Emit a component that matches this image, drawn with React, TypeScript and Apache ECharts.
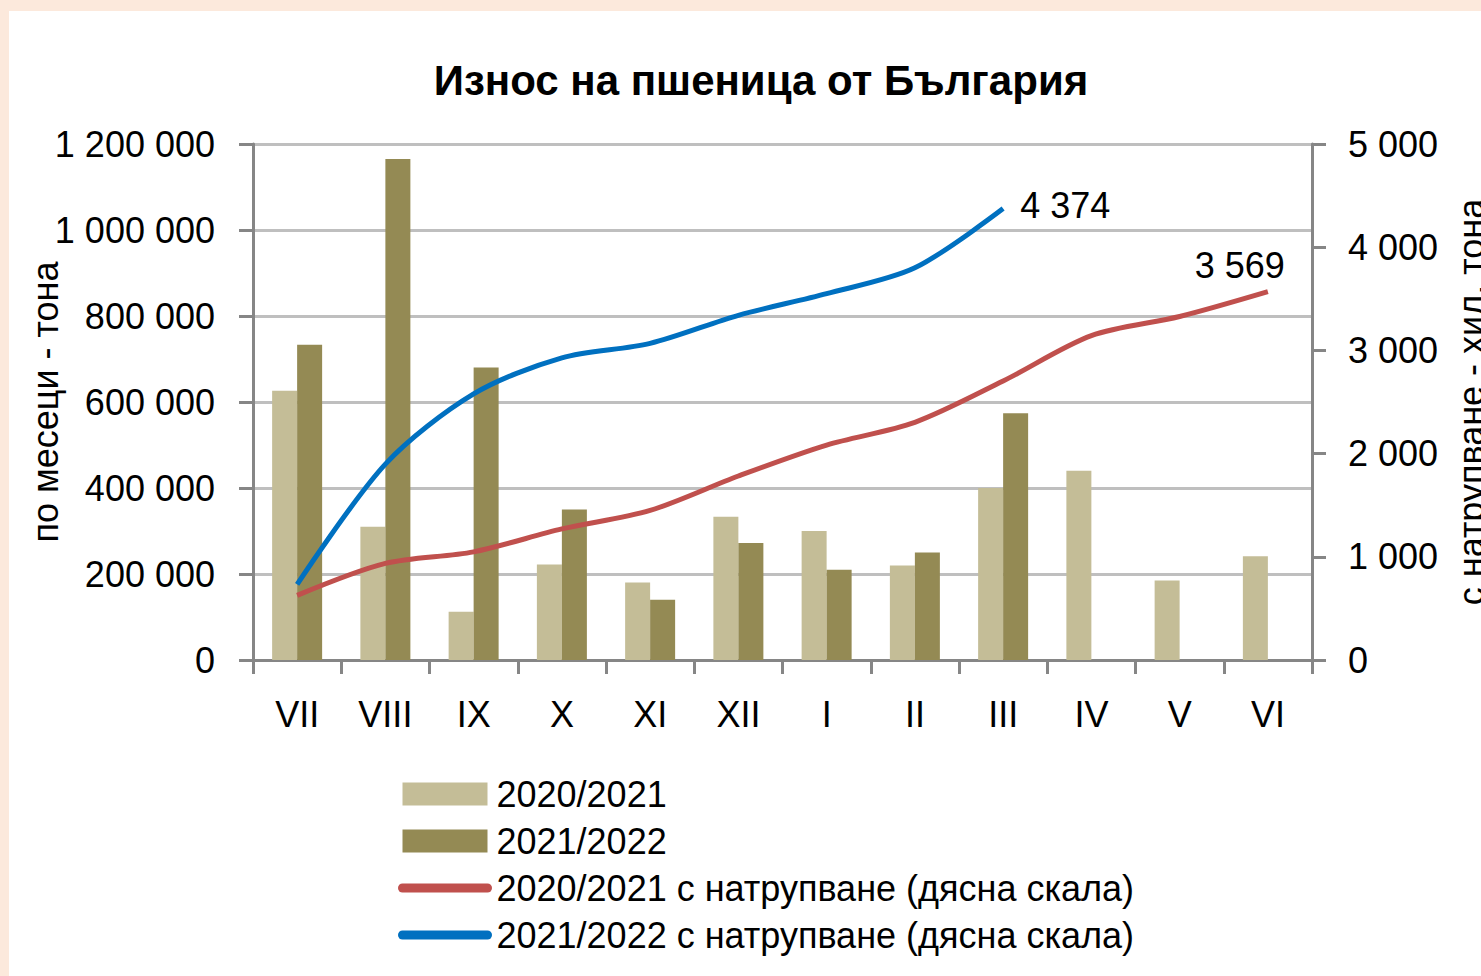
import React, { useEffect, useRef } from 'react';
import * as echarts from 'echarts';

const categories = ['VII', 'VIII', 'IX', 'X', 'XI', 'XII', 'I', 'II', 'III', 'IV', 'V', 'VI'];
const exports2020 = [626000, 310000, 112000, 222000, 180000, 333000, 300000, 220000, 400000, 440000, 185000, 241000];
const exports2021 = [733000, 1165000, 680000, 350000, 140000, 272000, 210000, 250000, 574000, null, null, null];
const cumulative2020 = [626, 936, 1048, 1270, 1450, 1783, 2083, 2303, 2703, 3143, 3328, 3569];
const cumulative2021 = [733, 1898, 2578, 2928, 3068, 3340, 3550, 3800, 4374, null, null, null];

const seriesNames = [
  '2020/2021',
  '2021/2022',
  '2020/2021 с натрупване (дясна скала)',
  '2021/2022 с натрупване (дясна скала)',
];
const titleText = 'Износ на пшеница от България';
const leftAxisName = 'по месеци - тона';
const rightAxisName = 'с натрупване - хил. тона';

const FONT = '"Liberation Sans", Arial, sans-serif';
const fmt = (v: number) => String(v).replace(/\B(?=(\d{3})+(?!\d))/g, ' ');

export default function App() {
  const ref = useRef<HTMLDivElement>(null);
  useEffect(() => {
    document.documentElement.style.overflow = 'hidden';
    document.body.style.overflow = 'hidden';
    document.body.style.margin = '0';
    const chart = echarts.init(ref.current!, null, { renderer: 'svg' });
    const axisLineStyle = { color: '#868686', width: 3 };
    chart.setOption({
      animation: false,
      backgroundColor: '#FCE9DC',
      textStyle: { fontFamily: FONT },
      graphic: [
        {
          type: 'rect',
          z: -10,
          silent: true,
          shape: { x: 9, y: 11, width: 1472, height: 965 },
          style: { fill: '#ffffff' },
        },
      ],
      title: {
        text: titleText,
        left: 756,
        top: 54,
        textAlign: 'center',
        textStyle: { fontSize: 42, fontWeight: 'bold', color: '#000', fontFamily: FONT },
      },
      grid: {
        left: 253,
        right: 169,
        top: 144,
        bottom: 316,
        containLabel: false,
        outerBoundsMode: 'none',
      },
      legend: {
        orient: 'vertical',
        left: 393,
        top: 769,
        itemWidth: 85,
        itemHeight: 23,
        itemGap: 7,
        textStyle: { fontSize: 36, color: '#000', fontFamily: FONT, lineHeight: 40, padding: [0, 0, 0, 4] },
        data: [
          { name: seriesNames[0], icon: 'rect' },
          { name: seriesNames[1], icon: 'rect' },
          { name: seriesNames[2], lineStyle: { width: 9, cap: 'round' }, itemStyle: { opacity: 0 } },
          { name: seriesNames[3], lineStyle: { width: 9, cap: 'round' }, itemStyle: { opacity: 0 } },
        ],
      },
      xAxis: {
        type: 'category',
        data: categories,
        boundaryGap: true,
        axisLine: { lineStyle: axisLineStyle },
        axisTick: { show: true, length: 14, lineStyle: axisLineStyle },
        axisLabel: { fontSize: 36, color: '#000', margin: 36, fontFamily: FONT },
      },
      yAxis: [
        {
          type: 'value',
          min: 0,
          max: 1200000,
          interval: 200000,
          name: leftAxisName,
          nameLocation: 'middle',
          nameRotate: 90,
          nameGap: 190,
          nameMoveOverlap: false,
          nameTextStyle: { fontSize: 36, color: '#000', fontFamily: FONT },
          axisLine: { show: true, lineStyle: axisLineStyle },
          axisTick: { show: true, length: 14, lineStyle: axisLineStyle },
          axisLabel: { formatter: fmt, fontSize: 36, color: '#000', margin: 38, fontFamily: FONT },
          splitLine: { show: true, lineStyle: { color: '#BFBFBF', width: 3 } },
        },
        {
          type: 'value',
          min: 0,
          max: 5000,
          interval: 1000,
          position: 'right',
          name: rightAxisName,
          nameLocation: 'middle',
          nameRotate: 90,
          nameGap: 141,
          nameMoveOverlap: false,
          nameTextStyle: { fontSize: 36, color: '#000', fontFamily: FONT },
          axisLine: { show: true, lineStyle: axisLineStyle },
          axisTick: { show: true, length: 14, lineStyle: axisLineStyle },
          axisLabel: { formatter: fmt, fontSize: 36, color: '#000', margin: 36, fontFamily: FONT },
          splitLine: { show: false },
        },
      ],
      series: [
        {
          name: seriesNames[0],
          type: 'bar',
          data: exports2020,
          barWidth: 25,
          barGap: '0%',
          itemStyle: { color: '#C4BD97' },
        },
        {
          name: seriesNames[1],
          type: 'bar',
          data: exports2021,
          barWidth: 25,
          barGap: '0%',
          itemStyle: { color: '#948A54' },
        },
        {
          name: seriesNames[2],
          type: 'line',
          yAxisIndex: 1,
          data: cumulative2020,
          smooth: 0.3,
          symbol: 'none',
          z: 3,
          lineStyle: { color: '#C0504D', width: 5 },
          itemStyle: { color: '#C0504D' },
          endLabel: {
            show: true,
            formatter: (p: any) => fmt(p.value),
            fontSize: 36,
            color: '#000',
            fontFamily: FONT,
            distance: 0,
            align: 'right',
            verticalAlign: 'middle',
            offset: [17, -26],
          },
        },
        {
          name: seriesNames[3],
          type: 'line',
          yAxisIndex: 1,
          data: cumulative2021,
          smooth: 0.3,
          symbol: 'none',
          z: 4,
          lineStyle: { color: '#0070C0', width: 5 },
          itemStyle: { color: '#0070C0' },
          endLabel: {
            show: true,
            formatter: (p: any) => fmt(p.value),
            fontSize: 36,
            color: '#000',
            fontFamily: FONT,
            distance: 17,
            verticalAlign: 'middle',
            offset: [0, -3],
          },
        },
      ],
    });
    return () => chart.dispose();
  }, []);
  return (
    <div
      ref={ref}
      style={{ position: 'fixed', left: 0, top: 0, width: 1481, height: 976 }}
    />
  );
}
